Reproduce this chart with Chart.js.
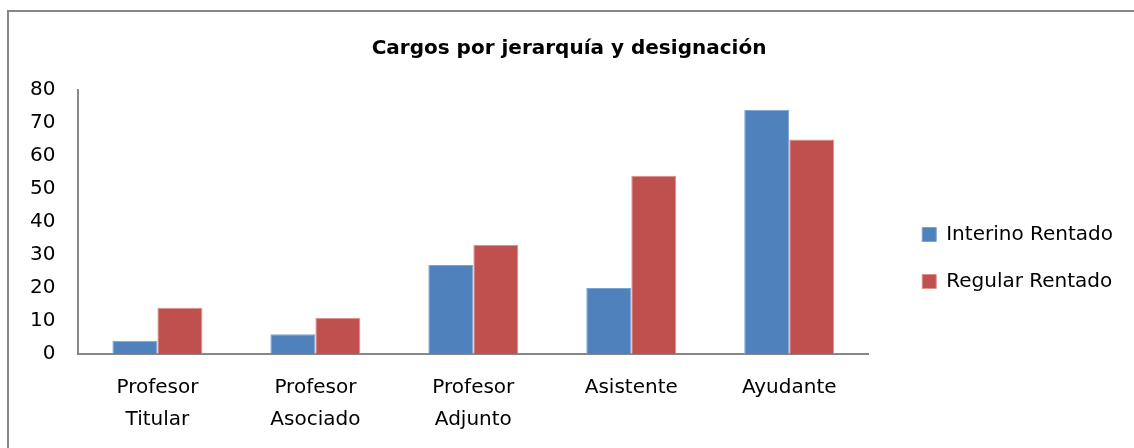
<!doctype html>
<html lang="es">
<head>
  <meta charset="UTF-8">
  <title>Cargos por jerarquía y designación</title>
  <script src="https://cdn.jsdelivr.net/npm/chart.js@4/dist/chart.umd.min.js"></script>
  <style>
    html, body { margin: 0; padding: 0; background: #fff; overflow: hidden; }
    #frame { position: absolute; left: 7px; top: 10px; width: 1200px; height: 600px; border: 2px solid #878787; box-sizing: border-box; }
    #wrap { position: absolute; left: 0; top: 0; width: 1134px; height: 448px; }
  </style>
</head>
<body>
  <div id="frame"></div>
  <div id="wrap"><canvas id="canvas" width="1134" height="448"></canvas></div>
  <script>
    var categorias = [['Profesor', 'Titular'], ['Profesor', 'Asociado'], ['Profesor', 'Adjunto'], 'Asistente', 'Ayudante'];
    var interinoRentado = [4, 6, 27, 20, 74];
    var regularRentado = [14, 11, 33, 54, 65];

    var fuente = '"DejaVu Sans", sans-serif';
    var gris = '#878787';

    new Chart(document.getElementById('canvas'), {
      type: 'bar',
      data: {
        labels: categorias,
        datasets: [
          { label: 'Interino Rentado', data: interinoRentado, backgroundColor: '#4F81BD', borderColor: '#7FA3D0', borderWidth: 1 },
          { label: 'Regular Rentado', data: regularRentado, backgroundColor: '#C0504D', borderColor: '#DB9290', borderWidth: 1 }
        ]
      },
      options: {
        responsive: false,
        animation: false,
        layout: { padding: { left: 15, right: 11, top: 20, bottom: 2 } },
        datasets: { bar: { categoryPercentage: 0.57, barPercentage: 1 } },
        scales: {
          x: {
            grid: { display: false },
            border: { color: gris, width: 2 },
            ticks: { color: '#000', font: { family: fuente, size: 20, lineHeight: 1.6 }, padding: 10, maxRotation: 0 }
          },
          y: {
            min: 0,
            max: 80,
            grid: { display: false },
            border: { color: gris, width: 2 },
            ticks: { stepSize: 10, color: '#000', font: { family: fuente, size: 20 }, padding: 15 }
          },
          // eje vacío: sólo deja aire entre el área del gráfico y la leyenda
          hueco: {
            position: 'right',
            display: true,
            grid: { display: false },
            border: { display: false },
            ticks: { display: false },
            afterFit: function (axis) { axis.width = 27; }
          }
        },
        plugins: {
          title: {
            display: true,
            text: 'Cargos por jerarquía y designación',
            color: '#000',
            font: { family: '"DejaVu Sans", sans-serif', size: 20, weight: 'bold' },
            padding: { top: 17, bottom: 29 }
          },
          legend: {
            position: 'right',
            maxWidth: 400,
            title: { display: true, text: ' ', padding: 19, font: { size: 10 } },
            labels: {
              color: '#000',
              font: { family: fuente, size: 20 },
              boxWidth: 14,
              boxHeight: 14,
              padding: 27
            }
          },
          tooltip: { enabled: false }
        }
      }
    });
  </script>
</body>
</html>
